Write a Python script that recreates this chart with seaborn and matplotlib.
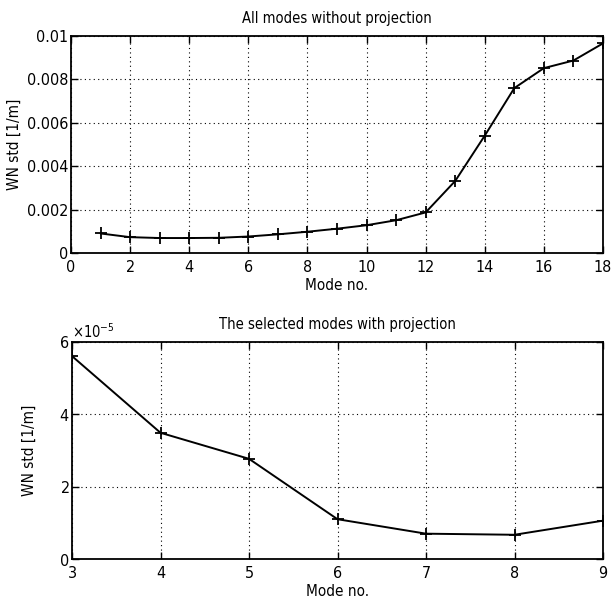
import matplotlib
matplotlib.use("Agg")
import matplotlib.pyplot as plt
from matplotlib.ticker import ScalarFormatter, MultipleLocator, FuncFormatter
import seaborn as sns
import pandas as pd

# Wave-number standard deviation per mode
modes_all = list(range(1, 19))
std_all = [0.00090, 0.00073, 0.00069, 0.00069, 0.00070, 0.00076, 0.00086,
           0.00098, 0.00112, 0.00128, 0.00151, 0.00187, 0.00332, 0.00541,
           0.00760, 0.00852, 0.00887, 0.00966]

modes_sel = [3, 4, 5, 6, 7, 8, 9]
std_sel = [5.61e-5, 3.49e-5, 2.77e-5, 1.10e-5, 0.70e-5, 0.67e-5, 1.06e-5]

title_top = "All modes without projection"
title_bottom = "The selected modes with projection"
xlabel = "Mode no."
ylabel = "WN std [1/m]"

sns.set_theme(style="ticks")
plt.rcParams["font.family"] = ["DejaVu Sans", "Liberation Sans"]
plt.rcParams["font.stretch"] = "condensed"
plt.rcParams["xtick.direction"] = "in"
plt.rcParams["ytick.direction"] = "in"
for key in ("text.color", "axes.labelcolor", "xtick.color", "ytick.color"):
    plt.rcParams[key] = "black"

fig = plt.figure(figsize=(6.16, 6.04), dpi=100)
ax1 = fig.add_axes([71 / 616, 1 - 253 / 604, 532 / 616, 217 / 604])
ax2 = fig.add_axes([72 / 616, 1 - 559 / 604, 531 / 616, 217 / 604])

df_all = pd.DataFrame({"mode": modes_all, "std": std_all})
df_sel = pd.DataFrame({"mode": modes_sel, "std": std_sel})

for ax, df in ((ax1, df_all), (ax2, df_sel)):
    sns.lineplot(data=df, x="mode", y="std", ax=ax, color="black",
                 marker="+", markersize=9, markeredgewidth=1.3,
                 markeredgecolor="black", linewidth=1.4)

ax1.set_xlim(0, 18)
ax1.set_ylim(0, 0.01)
ax1.xaxis.set_major_locator(MultipleLocator(2))
ax1.yaxis.set_major_locator(MultipleLocator(0.002))
ax1.yaxis.set_major_formatter(FuncFormatter(lambda v, p: "%g" % round(v, 6)))

ax2.set_xlim(3, 9)
ax2.set_ylim(0, 6e-5)
ax2.xaxis.set_major_locator(MultipleLocator(1))
ax2.yaxis.set_major_locator(MultipleLocator(2e-5))
fmt = ScalarFormatter(useMathText=True)
fmt.set_powerlimits((-3, 3))
ax2.yaxis.set_major_formatter(fmt)
ax2.yaxis.get_offset_text().set_fontsize(10.5)

for ax, title in ((ax1, title_top), (ax2, title_bottom)):
    ax.grid(True, linestyle=(0, (1, 3)), color="black", linewidth=0.8)
    ax.set_title(title, fontsize=10.5, pad=9)
    ax.set_xlabel(xlabel, fontsize=11, labelpad=2)
    ax.set_ylabel(ylabel, fontsize=11)
    ax.tick_params(labelsize=11.5, length=5, width=1, top=True, right=True)
    ax.tick_params(axis="x", pad=5)
    ax.tick_params(axis="y", pad=2)
    for s in ax.spines.values():
        s.set_linewidth(1.3)
        s.set_color("black")

ax1.yaxis.set_label_coords(-49 / 532, 0.5)
ax2.yaxis.set_label_coords(-35 / 531, 0.5)

fig.savefig("out.png", dpi=100, facecolor="white")
